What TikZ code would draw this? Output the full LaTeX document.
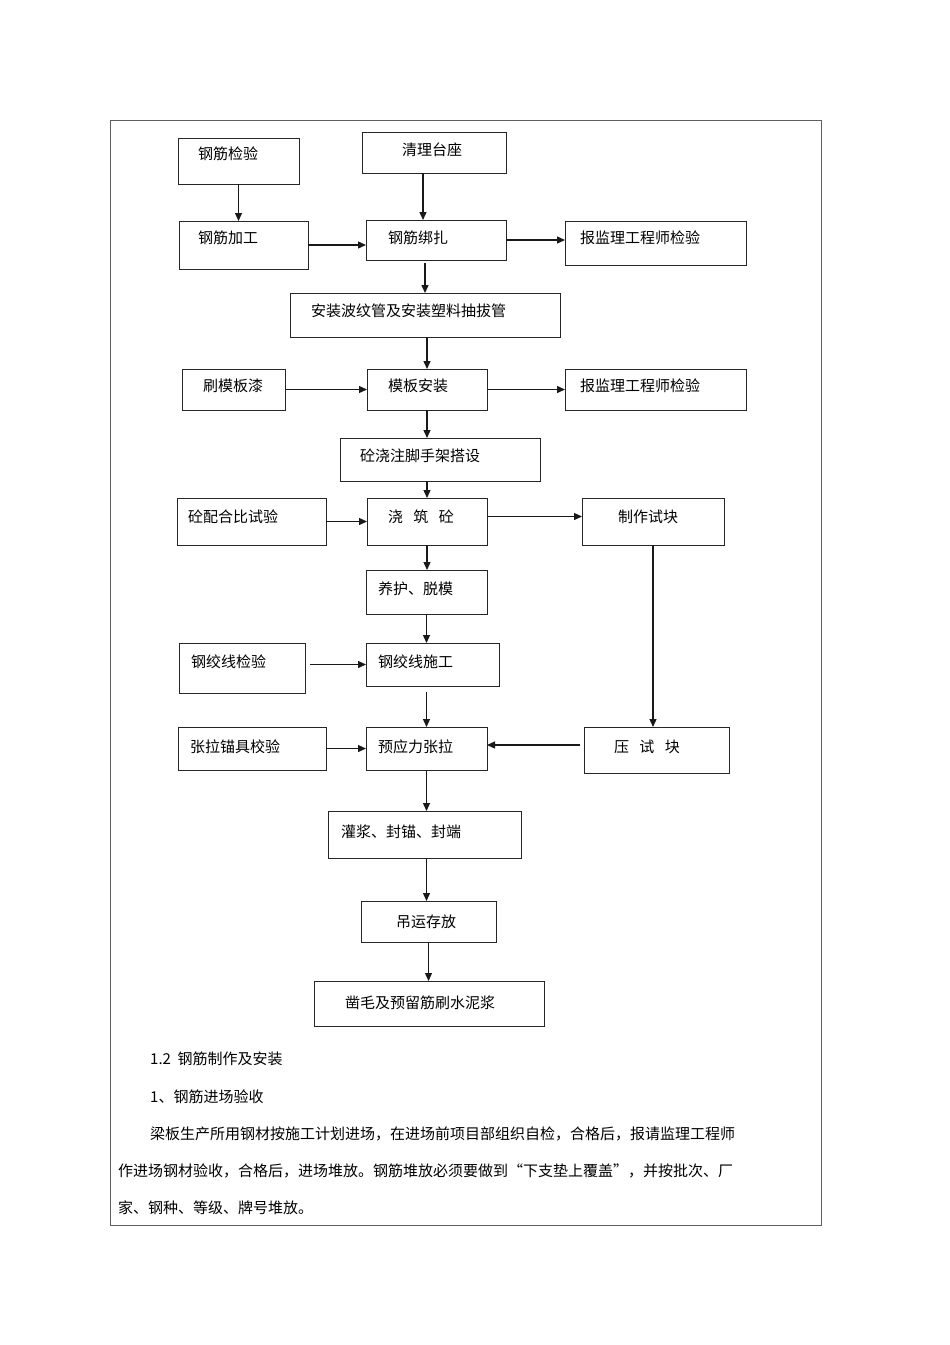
\documentclass[tikz,border=0pt]{standalone}
\usepackage{fontspec}
\setmainfont{Noto Sans CJK SC}
\usetikzlibrary{arrows.meta, calc}
\definecolor{framegray}{RGB}{95, 95, 95}
\tikzset{
	flowbox/.style n args={4}{rectangle, draw=black!85, line width=0.9pt, anchor=base west, align=left, inner ysep=0pt, outer sep=0pt, font=\fontsize{15}{18}\selectfont, inner xsep=#1, text width=#2, text height=#3, text depth=#4},
	arrow/.style={-{Triangle[length=8pt, width=7pt]}, line width=1.3pt, draw=black!90},
	bodytext/.style={anchor=base west, inner sep=0pt, font=\fontsize{15}{18}\selectfont},
}

\begin{document}
\begin{tikzpicture}[x=1pt, y=-1pt]
		\useasboundingbox (0,0) rectangle (950,1345);
		\draw[framegray, line width=0.8pt] (110,120) rectangle (821,1225);
		% flow chart
		\node[flowbox={20pt}{81pt}{21pt}{25pt}] (jjjy) at (178,159) {钢筋检验};
		\node[flowbox={40pt}{64pt}{23pt}{18pt}] (qltz) at (362,155) {清理台座};
		\node[flowbox={19pt}{91pt}{22pt}{26pt}] (jjjg) at (179,243) {钢筋加工};
		\node[flowbox={22pt}{96pt}{23pt}{17pt}] (jjbz) at (366,243) {钢筋绑扎};
		\node[flowbox={15pt}{151pt}{22pt}{22pt}] (bjl1) at (565,243) {报监理工程师检验};
		\node[flowbox={21pt}{228pt}{23pt}{21pt}] (bwg) at (290,316) {安装波纹管及安装塑料抽拔管};
		\node[flowbox={21pt}{61pt}{22pt}{19pt}] (smbq) at (182,391) {刷模板漆};
		\node[flowbox={21pt}{78pt}{22pt}{19pt}] (mbaz) at (367,391) {模板安装};
		\node[flowbox={15pt}{151pt}{22pt}{19pt}] (bjl2) at (565,391) {报监理工程师检验};
		\node[flowbox={20pt}{160pt}{23pt}{20pt}] (jsj) at (340,461) {砼浇注脚手架搭设};
		\node[flowbox={11pt}{127pt}{24pt}{23pt}] (phb) at (177,522) {砼配合比试验};
		\node[flowbox={21pt}{78pt}{24pt}{23pt}] (jzt) at (367,522) {浇\hspace{0.7em}筑\hspace{0.7em}砼};
		\node[flowbox={36pt}{70pt}{24pt}{23pt}] (zzsk) at (582,522) {制作试块};
		\node[flowbox={12pt}{97pt}{24pt}{20pt}] (yh) at (366,594) {养护、脱模};
		\node[flowbox={12pt}{102pt}{24pt}{26pt}] (jxjy) at (179,667) {钢绞线检验};
		\node[flowbox={12pt}{109pt}{24pt}{19pt}] (jxsg) at (366,667) {钢绞线施工};
		\node[flowbox={12pt}{124pt}{25pt}{18pt}] (zlmj) at (178,752) {张拉锚具校验};
		\node[flowbox={12pt}{97pt}{25pt}{18pt}] (yyl) at (366,752) {预应力张拉};
		\node[flowbox={30pt}{85pt}{25pt}{21pt}] (ysk) at (584,752) {压\hspace{0.7em}试\hspace{0.7em}块};
		\node[flowbox={13pt}{167pt}{26pt}{21pt}] (gj) at (328,837) {灌浆、封锚、封端};
		\node[flowbox={35pt}{65pt}{26pt}{15pt}] (dy) at (361,927) {吊运存放};
		\node[flowbox={31pt}{168pt}{27pt}{18pt}] (zm) at (314,1008) {凿毛及预留筋刷水泥浆};
		\draw[arrow] (jjjy) -- (jjjy |- jjjg.north);
		\draw[arrow] ([xshift=-11pt]qltz.south) -- ([xshift=-11pt]qltz.south |- jjbz.north);
		\draw[arrow] (jjjg) -- (jjjg -| jjbz.west);
		\draw[arrow] (jjbz) -- (jjbz -| bjl1.west);
		\draw[arrow, shorten <=3pt] ([xshift=-11pt]jjbz.south) -- ([xshift=-11pt]jjbz.south |- bwg.north);
		\draw[arrow] (bwg.south -| mbaz) -- (mbaz.north);
		\draw[arrow] (smbq) -- (mbaz);
		\draw[arrow] (mbaz) -- (bjl2);
		\draw[arrow] (mbaz) -- (mbaz |- jsj.north);
		\draw[arrow] (jsj.south -| jzt) -- (jzt.north);
		\draw[arrow] (phb) -- (phb -| jzt.west);
		\draw[arrow] ([yshift=5pt]jzt.east) -- ([yshift=5pt]jzt.east -| zzsk.west);
		\draw[arrow] (jzt) -- (jzt |- yh.north);
		\draw[arrow] (yh) -- (yh |- jxsg.north);
		\draw[arrow, shorten <=5pt] (jxsg -| jxjy.east) -- (jxsg.west);
		\draw[arrow, shorten <=6pt] (jxsg.south -| yyl) -- (yyl.north);
		\draw[arrow] (zzsk) -- (zzsk |- ysk.north);
		\draw[arrow] (zlmj) -- (zlmj -| yyl.west);
		\draw[arrow, shorten <=4pt] ([yshift=5pt]ysk.west) -- ([yshift=5pt]ysk.west -| yyl.east);
		\draw[arrow] (yyl) -- (yyl |- gj.north);
		\draw[arrow] (yyl |- gj.south) -- (yyl |- dy.north);
		\draw[arrow] (dy) -- (dy |- zm.north);
		% text below the chart
		\node[bodytext] (sec) at (150,1064) {1.2\ \ 钢筋制作及安装};
		\node[bodytext] (sub) at (150,1102) {1、钢筋进场验收};
		\node[bodytext] (p1) at (150,1139) {梁板生产所用钢材按施工计划进场，在进场前项目部组织自检，合格后，报请监理工程师};
		\node[bodytext] (p2) at (118,1176) {作进场钢材验收，合格后，进场堆放。钢筋堆放必须要做到“下支垫上覆盖”，并按批次、厂};
		\node[bodytext] (p3) at (118,1213) {家、钢种、等级、牌号堆放。};
	\end{tikzpicture}
\end{document}
